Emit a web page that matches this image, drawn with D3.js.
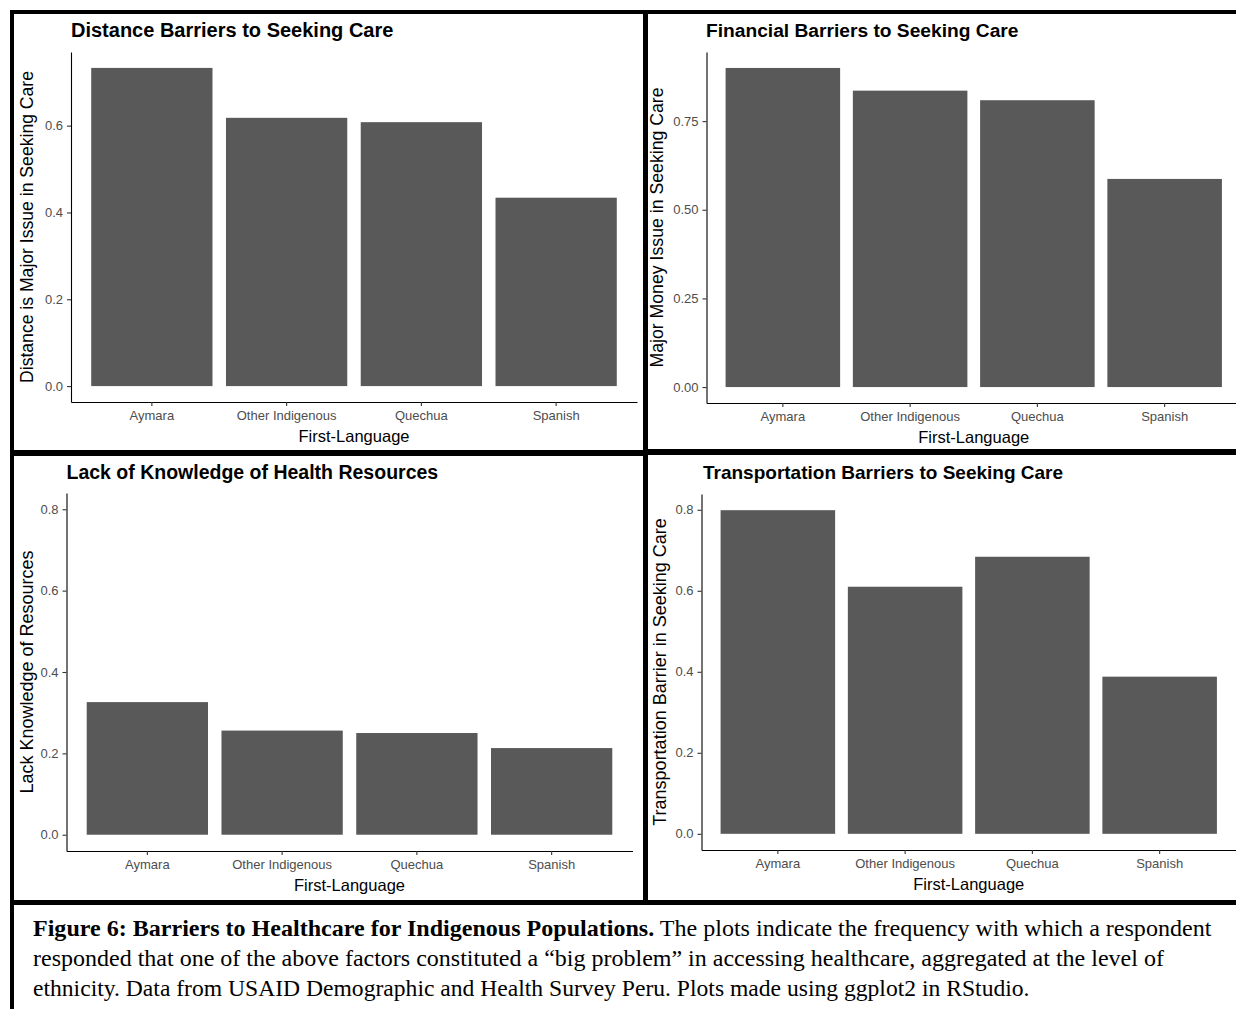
<!DOCTYPE html>
<html>
<head>
<meta charset="utf-8">
<script src="https://cdn.jsdelivr.net/npm/d3@7"></script>
<style>
  body { margin: 0; background: #fff; }
  svg { display: block; }
  .tick text { font-family: "Liberation Sans", Arial, sans-serif; font-size: 13px; fill: #4d4d4d; }
  .tick line { stroke: #333; stroke-width: 1.1; }
  .domain { stroke: #000; stroke-width: 1.1; }
  .ptitle { font-family: "Liberation Sans", Arial, sans-serif; font-weight: bold; fill: #000; }
  .atitle { font-family: "Liberation Sans", Arial, sans-serif; fill: #000; }
  .caption { font-family: "Liberation Serif", "Times New Roman", serif; fill: #000; }
</style>
</head>
<body>
<script>
// Share of respondents calling each factor a "big problem", by first language
const categories = ["Aymara", "Other Indigenous", "Quechua", "Spanish"];
const distanceShare  = [0.733, 0.618, 0.608, 0.434];
const financialShare = [0.900, 0.836, 0.809, 0.587];
const knowledgeShare = [0.326, 0.256, 0.250, 0.213];
const transportShare = [0.799, 0.610, 0.684, 0.388];

// y-axis tick values for each panel
const ticksDistance  = [0, 0.2, 0.4, 0.6];
const ticksFinancial = [0, 0.25, 0.5, 0.75];
const ticksKnowledge = [0, 0.2, 0.4, 0.6, 0.8];
const ticksTransport = [0, 0.2, 0.4, 0.6, 0.8];

const captionBold = "Figure 6: Barriers to Healthcare for Indigenous Populations.";
const captionLines = [
  " The plots indicate the frequency with which a respondent",
  "responded that one of the above factors constituted a \u201cbig problem\u201d in accessing healthcare, aggregated at the level of",
  "ethnicity. Data from USAID Demographic and Health Survey Peru. Plots made using ggplot2 in RStudio."
];

const W = 1236, H = 1009;
const svg = d3.select("body").append("svg").attr("width", W).attr("height", H);
svg.append("rect").attr("width", W).attr("height", H).attr("fill", "#fff");

const panels = [
  { title: "Distance Barriers to Seeking Care", yTitle: "Distance is Major Issue in Seeking Care",
    values: distanceShare, ticks: ticksDistance, fmt: d3.format(".1f"), limit: null,
    left: 71, right: 637, top: 52, bottom: 402, titleX: 71, titleY: 37, yTitleX: 33,
    titleSize: 20, yTitleSize: 17.6, xTitleSize: 16.5 },
  { title: "Financial Barriers to Seeking Care", yTitle: "Major Money Issue in Seeking Care",
    values: financialShare, ticks: ticksFinancial, fmt: d3.format(".2f"), limit: null,
    left: 706.5, right: 1241, top: 52, bottom: 403, titleX: 706, titleY: 37, yTitleX: 663,
    titleSize: 19.2, yTitleSize: 17.7, xTitleSize: 16.5 },
  { title: "Lack of Knowledge of Health Resources", yTitle: "Lack Knowledge of Resources",
    values: knowledgeShare, ticks: ticksKnowledge, fmt: d3.format(".1f"), limit: 0.8,
    left: 66.5, right: 632.5, top: 493, bottom: 851, titleX: 66.5, titleY: 479, yTitleX: 33,
    titleSize: 19.5, yTitleSize: 18, xTitleSize: 16.5 },
  { title: "Transportation Barriers to Seeking Care", yTitle: "Transportation Barrier in Seeking Care",
    values: transportShare, ticks: ticksTransport, fmt: d3.format(".1f"), limit: null,
    left: 701.5, right: 1236, top: 494, bottom: 850, titleX: 703, titleY: 479, yTitleX: 666,
    titleSize: 19, yTitleSize: 18, xTitleSize: 16.5 }
];

panels.forEach(p => {
  const g = svg.append("g");
  const yMax = p.limit != null ? p.limit : d3.max(p.values);
  const x = d3.scaleBand().domain(categories).range([p.left, p.right])
    .paddingInner(0.1).paddingOuter(0.15);
  const y = d3.scaleLinear().domain([-0.05 * yMax, 1.05 * yMax]).range([p.bottom, p.top]);

  g.selectAll("rect.bar").data(categories).join("rect")
    .attr("class", "bar")
    .attr("x", d => x(d))
    .attr("width", x.bandwidth())
    .attr("y", (d, i) => y(p.values[i]))
    .attr("height", (d, i) => y(0) - y(p.values[i]))
    .attr("fill", "#595959");

  g.append("g").attr("transform", `translate(${p.left},0)`)
    .call(d3.axisLeft(y).tickValues(p.ticks).tickFormat(p.fmt).tickSize(4).tickSizeOuter(0).tickPadding(4))
    .call(a => a.selectAll("text").attr("font-family", null).attr("font-size", null));

  g.append("g").attr("transform", `translate(0,${p.bottom})`)
    .call(d3.axisBottom(x).tickSize(4).tickSizeOuter(0).tickPadding(5))
    .call(a => a.selectAll("text").attr("font-family", null).attr("font-size", null));

  g.append("text").attr("class", "ptitle").attr("font-size", p.titleSize)
    .attr("x", p.titleX).attr("y", p.titleY).text(p.title);

  g.append("text").attr("class", "atitle").attr("font-size", p.xTitleSize)
    .attr("x", (p.left + p.right) / 2)
    .attr("y", p.bottom + 40).attr("text-anchor", "middle").text("First-Language");

  g.append("text").attr("class", "atitle").attr("font-size", p.yTitleSize)
    .attr("transform", `translate(${p.yTitleX},${(p.top + p.bottom) / 2}) rotate(-90)`)
    .attr("text-anchor", "middle").text(p.yTitle);
});

// Frame around the four plots and the caption
const frame = svg.append("g").attr("fill", "#000");
frame.append("rect").attr("x", 10).attr("y", 10).attr("width", W - 10).attr("height", 4);
frame.append("rect").attr("x", 10).attr("y", 10).attr("width", 4).attr("height", H - 10);
frame.append("rect").attr("x", 643).attr("y", 10).attr("width", 5).attr("height", 893);
frame.append("rect").attr("x", 10).attr("y", 450).attr("width", 636).attr("height", 6);
frame.append("rect").attr("x", 643).attr("y", 449).attr("width", W - 643).attr("height", 6);
frame.append("rect").attr("x", 10).attr("y", 900).attr("width", W - 10).attr("height", 5);

// Caption
const cap = svg.append("g").attr("class", "caption");
const l1 = cap.append("text").attr("x", 33).attr("y", 936).attr("font-size", 24.05);
l1.append("tspan").attr("font-weight", "bold").text(captionBold);
l1.append("tspan").text(captionLines[0]);
cap.append("text").attr("x", 33).attr("y", 966).attr("font-size", 24).text(captionLines[1]);
cap.append("text").attr("x", 33).attr("y", 996).attr("font-size", 23.6).text(captionLines[2]);
</script>
</body>
</html>
